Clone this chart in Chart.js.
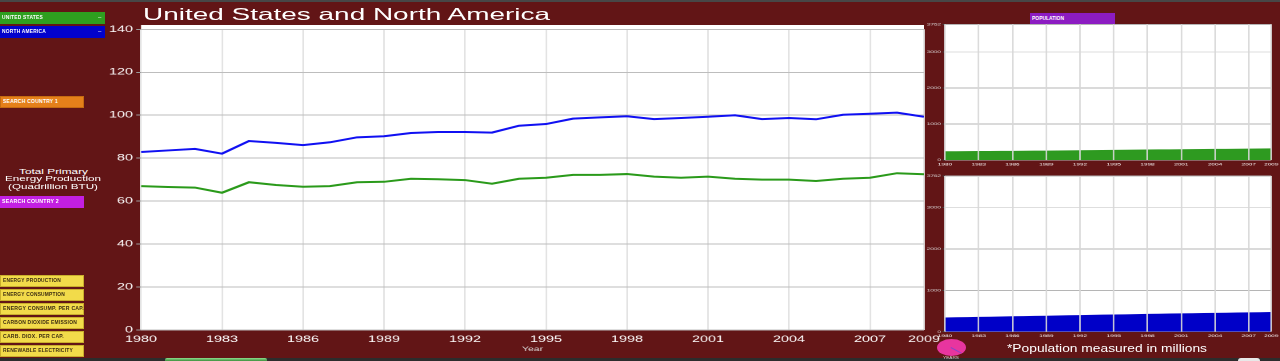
<!DOCTYPE html>
<html lang="en">
<head>
<meta charset="UTF-8">
<title>United States and North America</title>
<script src="https://cdn.jsdelivr.net/npm/chart.js"></script>
<style>
  html, body { margin: 0; padding: 0; }
  body {
    width: 1280px; height: 361px; position: relative; overflow: hidden;
    background: #621516; font-family: Arial, "Liberation Sans", sans-serif;
  }
  canvas { position: absolute; }
  #mainChart { left: 96px; top: 0; }
  #popTop { left: 920px; top: 14px; }
  #popBottom { left: 920px; top: 166px; }

  #topbar { position: absolute; left: 0; top: 0; width: 1280px; height: 2px; background: #474747; }
  #botbar { position: absolute; left: 0; top: 358px; width: 1280px; height: 3px; background: #2c2c2c; }
  #botglow { position: absolute; left: 165px; top: 358px; width: 102px; height: 3px; background: linear-gradient(#8ee08e, #3d8f3d); border-radius: 2px 2px 0 0; }
  #botwhite { position: absolute; left: 1238px; top: 358px; width: 22px; height: 3px; background: #e8e8e8; border-radius: 3px 3px 0 0; }

  .fit { position: absolute; white-space: nowrap; transform-origin: 0 0; color: #fff; }
  #title { left: 143px; top: 4px; font-size: 16.5px; line-height: 20px; }
  #note { left: 1007px; top: 342px; font-size: 11px; line-height: 13px; }
  .ylab { font-size: 7.5px; line-height: 8px; }

  .btn { position: absolute; left: 0; height: 12px; box-sizing: border-box; }
  .btn .fit { left: 2px; top: 0; font-size: 4.6px; font-weight: bold; line-height: 12px; letter-spacing: 0.2px; }
  .btn .dash { position: absolute; left: 98px; top: 0; font-size: 6px; line-height: 11px; color: #fff; }
  .green { background: #2e9f1f; width: 105px; }
  .blue { background: #0202cc; width: 105px; }
  .orange { background: #e5801a; width: 84px; border: 1px solid #c56a10; }
  .magenta { background: #c31fe2; width: 84px; }
  .yellow { background: #f2db4a; width: 84px; border: 1px solid #c9ae2c; }
  .yellow .fit { color: #3a2a10; line-height: 10px; }
  #popLabel { position: absolute; left: 1030px; top: 13px; width: 85px; height: 11px; background: #8c1cc2; }
  #popLabel .fit { left: 2px; top: 0; font-size: 4.6px; font-weight: bold; line-height: 11px; }

  #knob { position: absolute; left: 937px; top: 339px; width: 29px; height: 17px; border-radius: 50%; background: #e8359f; }
  #needle { position: absolute; left: 951px; top: 347px; width: 12px; height: 1px; background: #8a44c8; transform: rotate(28deg); transform-origin: 0 0; }
  #years { font-size: 4px; line-height: 5px; color: #cfcfcf; top: 355px; }
</style>
</head>
<body>
<div id="topbar"></div>

<canvas id="mainChart" width="530" height="361" style="width:848px;height:361px"></canvas>
<canvas id="popTop" width="225" height="162" style="width:360px;height:162px"></canvas>
<canvas id="popBottom" width="225" height="195" style="width:360px;height:195px"></canvas>

<div id="title" class="fit" data-w="407">United States and North America</div>

<div class="btn green" style="top:12px"><span class="fit" data-w="41">UNITED STATES</span><span class="dash">–</span></div>
<div class="btn blue" style="top:26px"><span class="fit" data-w="44">NORTH AMERICA</span><span class="dash">–</span></div>
<div class="btn orange" style="top:96px"><span class="fit" data-w="55" style="line-height:10px">SEARCH COUNTRY 1</span></div>

<div class="fit ylab" data-w="69" data-cx="53" style="top:167.7px">Total Primary</div>
<div class="fit ylab" data-w="96" data-cx="53" style="top:175.3px">Energy Production</div>
<div class="fit ylab" data-w="90" data-cx="53" style="top:183px">(Quadrillion BTU)</div>

<div class="btn magenta" style="top:196px"><span class="fit" data-w="57">SEARCH COUNTRY 2</span></div>

<div class="btn yellow" style="top:275px"><span class="fit" data-w="58">ENERGY PRODUCTION</span></div>
<div class="btn yellow" style="top:289px"><span class="fit" data-w="62">ENERGY CONSUMPTION</span></div>
<div class="btn yellow" style="top:303px"><span class="fit" data-w="81">ENERGY CONSUMP. PER CAP.</span></div>
<div class="btn yellow" style="top:317px"><span class="fit" data-w="74">CARBON DIOXIDE EMISSION</span></div>
<div class="btn yellow" style="top:331px"><span class="fit" data-w="61">CARB. DIOX. PER CAP.</span></div>
<div class="btn yellow" style="top:345px"><span class="fit" data-w="70">RENEWABLE ELECTRICITY</span></div>

<div id="popLabel"><span class="fit" data-w="32">POPULATION</span></div>

<div id="botbar"></div>
<div id="botglow"></div>
<div id="botwhite"></div>
<div id="knob"></div>
<div id="needle"></div>
<div id="years" class="fit" data-w="16" data-cx="951">YEARS</div>
<div id="note" class="fit" data-w="200">*Population measured in millions</div>

<script>
  // years on the x axis
  const years = [1980, 1981, 1982, 1983, 1984, 1985, 1986, 1987, 1988, 1989,
                 1990, 1991, 1992, 1993, 1994, 1995, 1996, 1997, 1998, 1999,
                 2000, 2001, 2002, 2003, 2004, 2005, 2006, 2007, 2008, 2009];
  const yearTicks = [1980, 1983, 1986, 1989, 1992, 1995, 1998, 2001, 2004, 2007, 2009];

  // total primary energy production, quadrillion BTU
  const usProduction = [67.0, 66.6, 66.3, 63.9, 68.8, 67.5, 66.7, 67.0, 68.8, 69.0,
                        70.4, 70.2, 69.8, 68.1, 70.4, 70.9, 72.2, 72.2, 72.6, 71.4,
                        70.9, 71.4, 70.4, 70.0, 70.0, 69.4, 70.4, 70.9, 73.0, 72.5];
  const naProduction = [82.9, 83.6, 84.3, 82.1, 88.0, 87.1, 86.1, 87.4, 89.7, 90.2,
                        91.7, 92.2, 92.2, 91.9, 95.1, 95.9, 98.4, 99.0, 99.5, 98.2,
                        98.7, 99.3, 100.0, 98.2, 98.7, 98.1, 100.2, 100.7, 101.2, 99.3];
  const productionTicks = [0, 20, 40, 60, 80, 100, 120, 140];

  // population, millions
  const usPopulation = [227, 230, 232, 234, 236, 238, 240, 242, 245, 247,
                        250, 253, 257, 260, 263, 266, 269, 273, 276, 279,
                        282, 285, 288, 290, 293, 296, 298, 301, 304, 307];
  const naPopulation = [331, 336, 341, 346, 350, 355, 360, 364, 369, 374,
                        379, 384, 389, 394, 399, 404, 408, 413, 418, 422,
                        427, 431, 435, 439, 443, 447, 451, 455, 459, 463];
  const populationTicks = [0, 1000, 2000, 3000, 3762];

  // stretch the html labels to the widths seen in the picture
  document.querySelectorAll('[data-w]').forEach(el => {
    const w = +el.dataset.w;
    const nw = el.getBoundingClientRect().width;
    el.style.transform = 'scaleX(' + (w / nw) + ')';
    if (el.dataset.cx) el.style.left = (+el.dataset.cx - w / 2) + 'px';
  });

  // white plot background
  const plotBg = {
    id: 'plotBg',
    beforeDraw(chart, args, opts) {
      const a = chart.chartArea;
      const c = chart.ctx;
      const extra = opts.extraTop || 0;
      c.save();
      c.fillStyle = '#ffffff';
      c.fillRect(a.left, a.top - extra, a.right - a.left, a.bottom - a.top + extra);
      c.restore();
    }
  };

  const pairs = arr => years.map((yr, i) => ({ x: yr, y: arr[i] }));

  // main production chart
  new Chart(document.getElementById('mainChart'), {
    type: 'line',
    data: {
      datasets: [
        { label: 'North America', data: pairs(naProduction), borderColor: '#1010f2', borderWidth: 2 },
        { label: 'United States', data: pairs(usProduction), borderColor: '#2a9a1a', borderWidth: 2 }
      ]
    },
    options: {
      responsive: false,
      animation: false,
      devicePixelRatio: 2,
      layout: { padding: { top: 29.3, right: 12.5, bottom: 0, left: 0 } },
      elements: { point: { radius: 0 }, line: { tension: 0 } },
      plugins: { legend: { display: false }, tooltip: { enabled: false }, plotBg: { extraTop: 4.3 } },
      scales: {
        x: {
          type: 'linear', min: 1980, max: 2009,
          afterBuildTicks: s => { s.ticks = yearTicks.map(v => ({ value: v })); },
          afterFit: s => { s.height = 31; },
          ticks: { color: '#ffffff', font: { size: 9 }, padding: 2, maxRotation: 0, autoSkip: false, callback: v => String(v) },
          grid: { color: '#e3e3e3', tickLength: 2, tickColor: 'rgba(0,0,0,0)' },
          border: { display: false },
          title: { display: true, text: 'Year', color: '#dddddd', font: { size: 6.5 }, padding: { top: 0, bottom: 8 } }
        },
        y: {
          min: 0, max: 140,
          afterBuildTicks: s => { s.ticks = productionTicks.map(v => ({ value: v })); },
          afterFit: s => { s.width = 28.125; },
          ticks: { color: '#ffffff', font: { size: 9 }, padding: 2 },
          grid: { color: '#bdbdbd', tickLength: 3, tickColor: '#9a9a9a' },
          border: { display: false }
        }
      }
    },
    plugins: [plotBg]
  });

  // small population charts
  function popChart(id, values, color, axisHeight, padTop) {
    return new Chart(document.getElementById(id), {
      type: 'line',
      data: {
        datasets: [{ data: pairs(values), borderColor: color, borderWidth: 1, backgroundColor: color, fill: 'origin' }]
      },
      options: {
        responsive: false,
        animation: false,
        devicePixelRatio: 2,
        layout: { padding: { top: padTop, right: 5, bottom: 0, left: 0 } },
        elements: { point: { radius: 0 }, line: { tension: 0 } },
        plugins: { legend: { display: false }, tooltip: { enabled: false } },
        scales: {
          x: {
            type: 'linear', min: 1980, max: 2009,
            afterBuildTicks: s => { s.ticks = yearTicks.map(v => ({ value: v })); },
            afterFit: s => { s.height = axisHeight; },
            ticks: { color: '#ffffff', font: { size: 4 }, padding: 1, maxRotation: 0, autoSkip: false, callback: v => String(v) },
            grid: { color: 'rgba(215,215,215,0.9)', z: 1, tickLength: 1, tickColor: 'rgba(0,0,0,0)' },
            border: { display: false }
          },
          y: {
            min: 0, max: 3762,
            afterBuildTicks: s => { s.ticks = populationTicks.map(v => ({ value: v })); },
            afterFit: s => { s.width = 15.625; },
            ticks: { color: '#dddddd', font: { size: 4 }, padding: 1, callback: v => String(v) },
            grid: {
              color: c => (c.tick && c.tick.value === 3000) ? '#dedede' : '#b5b5b5',
              tickLength: 1.5, tickColor: '#444'
            },
            border: { display: false }
          }
        }
      },
      plugins: [plotBg]
    });
  }

  popChart('popTop', usPopulation, '#2e9a20', 16, 10.3);
  popChart('popBottom', naPopulation, '#0000c8', 29.3, 10);
</script>
</body>
</html>
